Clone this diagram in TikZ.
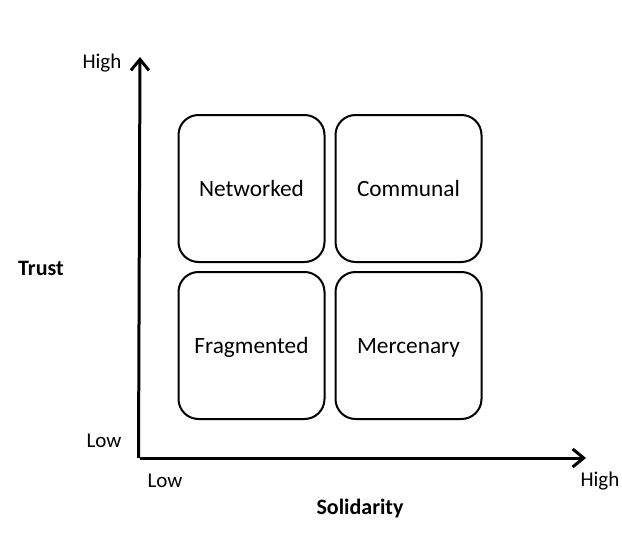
\documentclass[tikz,border=0pt]{standalone}
\usepackage{fontspec}
\setmainfont{Carlito}
\usetikzlibrary{arrows.meta}
\begin{document}
\begin{tikzpicture}[x=1pt,y=-1pt,
  quad/.style={draw=black, line width=2pt, rounded corners=20pt, minimum width=146pt, minimum height=147pt, inner sep=0pt, text height=20pt, text depth=4.5pt, font=\fontsize{23.3}{27}\selectfont},
  axis/.style={line width=3pt, -{Straight Barb[length=11pt,width=18pt,line width=3pt]}},
  lbl/.style={font=\fontsize{21}{25}\selectfont, inner sep=0pt},
  ttl/.style={font=\bfseries\fontsize{22}{26}\selectfont, inner sep=0pt}]
\useasboundingbox[fill=white] (0,0) rectangle (622,554);
\node[quad] (net) at (251.5,188.5) {Networked};
\node[quad] (com) at (408.5,188.5) {Communal};
\node[quad] (fra) at (251.5,345.5) {Fragmented};
\node[quad] (mer) at (408.5,345.5) {Mercenary};
\coordinate (origin) at (140,458);
\coordinate (ytip) at (140,57);
\coordinate (xtip) at (586,458);
\draw[axis] ([xshift=-1.5pt]origin) -- (ytip);
\draw[axis] (origin) -- (xtip);
\node[lbl] (yhigh) at (102,63) {High};
\node[lbl] (ylow) at (104,441) {Low};
\node[lbl] (xlow) at (165,481) {Low};
\node[lbl] (xhigh) at (600,481) {High};
\node[ttl] (trust) at (41,268) {Trust};
\node[ttl] (soli) at (360,509) {Solidarity};
\end{tikzpicture}
\end{document}
